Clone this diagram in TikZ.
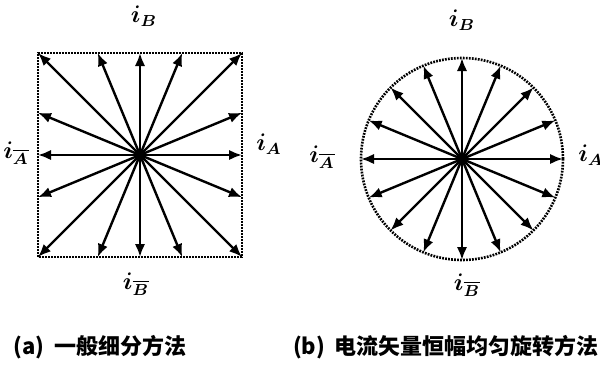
\documentclass[tikz,border=0pt]{standalone}
\usepackage{amsmath,bm}
\usepackage{fontspec}
\usepackage{tikz}
\usetikzlibrary{arrows.meta,calc}
\newfontfamily\cjk{Noto Sans CJK SC}

\begin{document}
\begin{tikzpicture}[>={Latex[length=6.5pt,width=5.2pt]},x=0.5pt,y=0.5pt,
    vec/.style={->,line width=1.2pt},
    rim/.style={line width=1.3pt,dash pattern=on 0.9pt off 0.6pt},
    lbl/.style={inner sep=0pt,font=\boldmath\fontsize{12}{14}\selectfont},
    captext/.style={inner sep=0pt,font=\cjk\bfseries\fontsize{11}{13}\selectfont}]
    \useasboundingbox (0,0) rectangle (600,366);
    % (a) square subdivision
    \coordinate (oa) at (140,211);
    \draw[rim] ($(oa)+(-102,-102)$) rectangle ($(oa)+(102,102)$);
    \foreach \k in {0,...,15}{
      \pgfmathsetmacro\ang{22.5*\k}
      \pgfmathsetmacro\len{102/max(abs(cos(\ang)),abs(sin(\ang)))}
      \path (oa) ++(\ang:\len) coordinate (a\k);
      \draw[vec] (oa) -- (a\k);
    }
    \node[lbl] (aB) at (144,350) {$\bm{i}_{\bm{B}}$};
    \node[lbl] (aBn) at (136,82) {$\bm{i}_{\overline{\bm{B}}}$};
    \node[lbl] (aA) at (269,222) {$\bm{i}_{\bm{A}}$};
    \node[lbl] (aAn) at (16,213) {$\bm{i}_{\overline{\bm{A}}}$};
    \node[captext] (capa) at (100,19) {(a)\hspace{0.45em}一般细分方法};
    % (b) constant amplitude rotation
    \coordinate (ob) at (462,207);
    \draw[rim] (ob) circle (101);
    \foreach \k in {0,...,15}{
      \path (ob) ++(22.5*\k:101) coordinate (b\k);
      \draw[vec] (ob) -- (b\k);
    }
    \node[lbl] (bB) at (462,346) {$\bm{i}_{\bm{B}}$};
    \node[lbl] (bBn) at (467,81) {$\bm{i}_{\overline{\bm{B}}}$};
    \node[lbl] (bA) at (591,211) {$\bm{i}_{\bm{A}}$};
    \node[lbl] (bAn) at (322,209) {$\bm{i}_{\overline{\bm{A}}}$};
    \node[captext] (capb) at (446,19) {(b)\hspace{0.45em}电流矢量恒幅均匀旋转方法};
\end{tikzpicture}
\end{document}
